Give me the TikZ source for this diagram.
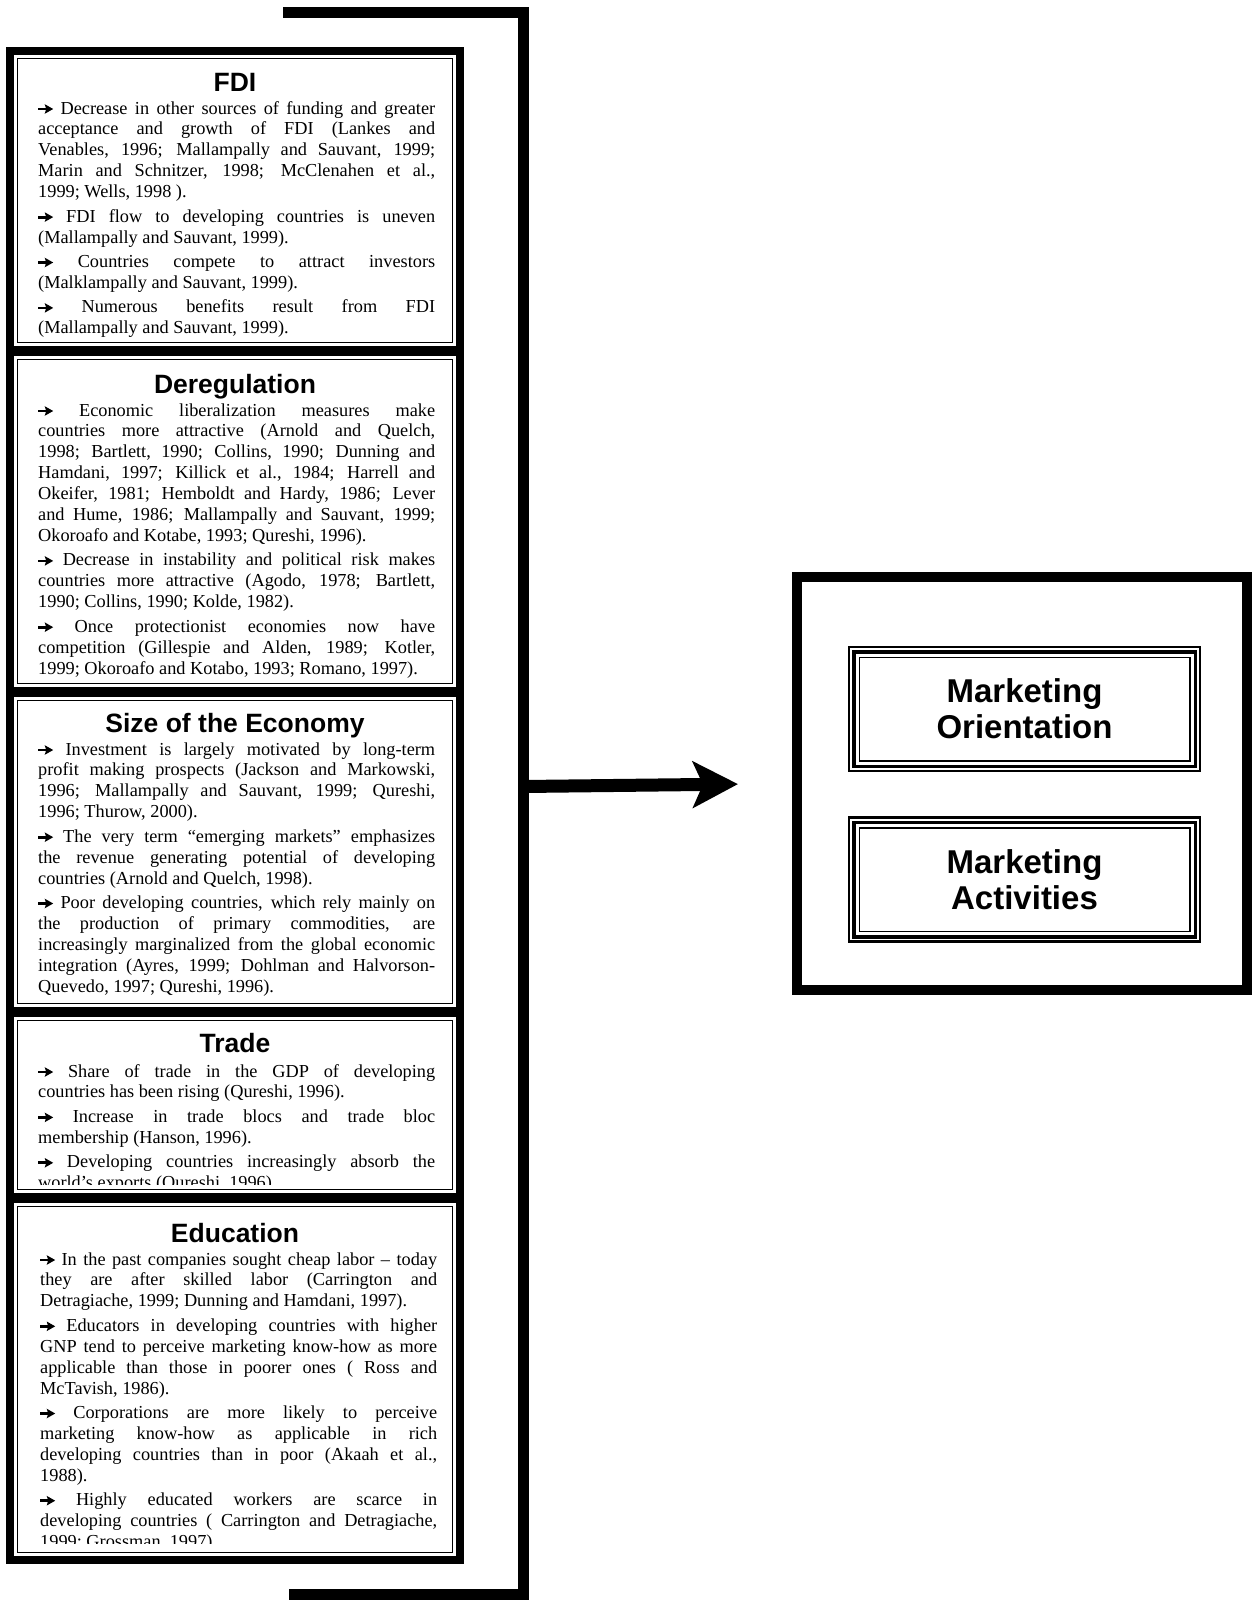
\documentclass[tikz,border=0pt]{standalone}
\usepackage{fontspec}
\setmainfont{Liberation Serif}
\newfontfamily\hdfont{Liberation Sans}
\usetikzlibrary{arrows.meta}
\newlength\tw \setlength\tw{397pt}
\newsavebox\arwbox
\newcommand\arw{\usebox\arwbox}
\newcommand\jline[1]{\hbox to \tw{\spaceskip=.25em plus 1fil\relax #1}}
\newcommand\eline[1]{\hbox{#1}}
\newcommand\pgap{\vskip 3.6pt}
\newcommand\bodytext[1]{\vtop{\hsize=\tw\fontsize{18.3}{20.9}\selectfont\baselineskip=20.9pt\lineskiplimit=-50pt\lineskip=0pt #1}}
\tikzset{
  sect/.style={line width=8pt},
  thin/.style={line width=1.4pt},
  head/.style={font=\hdfont\bfseries\fontsize{26.5}{30}\selectfont, inner sep=0pt, anchor=base},
  btext/.style={inner sep=0pt, anchor=base west},
  mk/.style={draw, line width=2.5pt, minimum width=351pt, minimum height=124pt, align=center, inner sep=0pt,
    font=\hdfont\bfseries\fontsize{33}{36}\selectfont},
}
\begin{document}
\sbox\arwbox{\begin{pgfpicture}%
  \pgfpathrectangle{\pgfpoint{0pt}{3.6pt}}{\pgfpoint{8.5pt}{2.8pt}}%
  \pgfusepath{fill}%
  \pgfpathmoveto{\pgfpoint{6.5pt}{0.2pt}}%
  \pgfpathlineto{\pgfpoint{15pt}{5pt}}%
  \pgfpathlineto{\pgfpoint{6.5pt}{9.8pt}}%
  \pgfpathlineto{\pgfpoint{8pt}{5pt}}%
  \pgfpathclose
  \pgfusepath{fill}%
  \pgfsetbaseline{0pt}%
\end{pgfpicture}}%
\begin{tikzpicture}[x=1pt,y=-1pt]
\useasboundingbox (0,0) rectangle (1256,1600);
% left sections
\draw[sect] (10,51) rectangle (460,350);
\draw[sect] (10,352) rectangle (460,691);
\draw[sect] (10,693) rectangle (460,1011);
\draw[sect] (10,1013) rectangle (460,1197);
\draw[sect] (10,1199) rectangle (460,1560);
\draw[thin] (17.5,58.5) rectangle (452.5,342.5);
\draw[thin] (17.5,359.5) rectangle (452.5,683.5);
\draw[thin] (17.5,700.5) rectangle (452.5,1003.5);
\draw[thin] (17.5,1020.5) rectangle (452.5,1189.5);
\draw[thin] (17.5,1206.5) rectangle (452.5,1552.5);
% headings
\node[head] (hfdi) at (235,92) {FDI};
\node[head] (hdereg) at (235,393) {Deregulation};
\node[head] (hsize) at (235,732) {Size of the Economy};
\node[head] (htrade) at (235,1052) {Trade};
\node[head] (hedu) at (235,1242) {Education};
% FDI
\node[btext] (tfdi) at (38,114) {\bodytext{%
\jline{\arw{} Decrease in other sources of funding and greater}
\jline{acceptance and growth of FDI (Lankes and}
\jline{Venables, 1996; Mallampally and Sauvant, 1999;}
\jline{Marin and Schnitzer, 1998; McClenahen et al.,}
\eline{1999; Wells, 1998 ).}
\pgap
\jline{\arw{} FDI flow to developing countries is uneven}
\eline{(Mallampally and Sauvant, 1999).}
\pgap
\jline{\arw{} Countries compete to attract investors}
\eline{(Malklampally and Sauvant, 1999).}
\pgap
\jline{\arw{} Numerous benefits result from FDI}
\eline{(Mallampally and Sauvant, 1999).}}};
% Deregulation
\node[btext] (tdereg) at (38,416) {\bodytext{%
\jline{\arw{} Economic liberalization measures make}
\jline{countries more attractive (Arnold and Quelch,}
\jline{1998; Bartlett, 1990; Collins, 1990; Dunning and}
\jline{Hamdani, 1997; Killick et al., 1984; Harrell and}
\jline{Okeifer, 1981; Hemboldt and Hardy, 1986; Lever}
\jline{and Hume, 1986; Mallampally and Sauvant, 1999;}
\eline{Okoroafo and Kotabe, 1993; Qureshi, 1996).}
\pgap
\jline{\arw{} Decrease in instability and political risk makes}
\jline{countries more attractive (Agodo, 1978; Bartlett,}
\eline{1990; Collins, 1990; Kolde, 1982).}
\pgap
\jline{\arw{} Once protectionist economies now have}
\jline{competition (Gillespie and Alden, 1989; Kotler,}
\eline{1999; Okoroafo and Kotabo, 1993; Romano, 1997).}}};
% Size
\node[btext] (tsize) at (38,755) {\bodytext{%
\jline{\arw{} Investment is largely motivated by long-term}
\jline{profit making prospects (Jackson and Markowski,}
\jline{1996; Mallampally and Sauvant, 1999; Qureshi,}
\eline{1996; Thurow, 2000).}
\pgap
\jline{\arw{} The very term “emerging markets” emphasizes}
\jline{the revenue generating potential of developing}
\eline{countries (Arnold and Quelch, 1998).}
\pgap
\jline{\arw{} Poor developing countries, which rely mainly on}
\jline{the production of primary commodities, are}
\jline{increasingly marginalized from the global economic}
\jline{integration (Ayres, 1999; Dohlman and Halvorson-}
\eline{Quevedo, 1997; Qureshi, 1996).}}};
% Trade
\begin{scope}
\clip (18.2,1021.2) rectangle (451.8,1184);
\node[btext] (ttrade) at (38,1077) {\bodytext{%
\jline{\arw{} Share of trade in the GDP of developing}
\eline{countries has been rising (Qureshi, 1996).}
\pgap
\jline{\arw{} Increase in trade blocs and trade bloc}
\eline{membership (Hanson, 1996).}
\pgap
\jline{\arw{} Developing countries increasingly absorb the}
\eline{world’s exports (Qureshi, 1996).}}};
\end{scope}
% Education
\begin{scope}
\clip (18.2,1207.2) rectangle (451.8,1543);
\node[btext] (tedu) at (40,1265) {\bodytext{%
\jline{\arw{} In the past companies sought cheap labor – today}
\jline{they are after skilled labor (Carrington and}
\eline{Detragiache, 1999; Dunning and Hamdani, 1997).}
\pgap
\jline{\arw{} Educators in developing countries with higher}
\jline{GNP tend to perceive marketing know-how as more}
\jline{applicable than those in poorer ones ( Ross and}
\eline{McTavish, 1986).}
\pgap
\jline{\arw{} Corporations are more likely to perceive}
\jline{marketing know-how as applicable in rich}
\jline{developing countries than in poor (Akaah et al.,}
\eline{1988).}
\pgap
\jline{\arw{} Highly educated workers are scarce in}
\jline{developing countries ( Carrington and Detragiache,}
\eline{1999; Grossman, 1997).}}};
\end{scope}
% bracket
\draw[line width=11pt, line join=miter] (283,12.5) -- (523,12.5) -- (523,1594.5) -- (289,1594.5);
\coordinate (brk) at (523,786.5);
% right box
\node[draw, line width=10pt, minimum width=450pt, minimum height=413pt, inner sep=0pt] (mbox) at (1022,783.5) {};
\node[mk] (mo) at (1024.5,709) {Marketing\\Orientation};
\node[mk] (ma) at (1024.5,879.5) {Marketing\\Activities};
\foreach \n in {mo,ma}{
  \draw[line width=3.5pt] ([shift={(6,6)}]\n.north west) rectangle ([shift={(-6,-6)}]\n.south east);
  \draw[line width=1.5pt] ([shift={(11.5,11.5)}]\n.north west) rectangle ([shift={(-11.5,-11.5)}]\n.south east);
}
% arrow
\draw[line width=13pt, -{Stealth[length=45pt, width=46pt, inset=10pt]}, shorten >=54pt] (brk) -- (mbox.west);
\end{tikzpicture}
\end{document}
